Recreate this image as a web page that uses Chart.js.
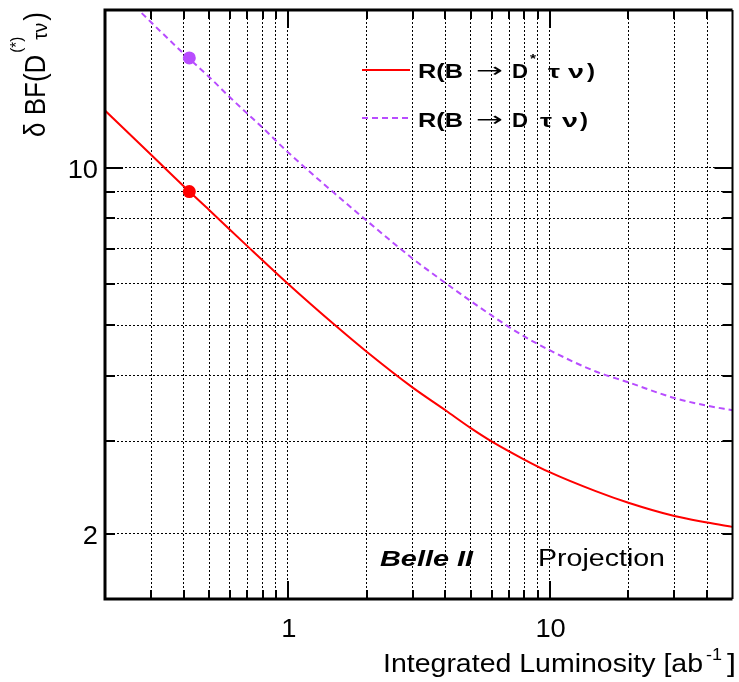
<!DOCTYPE html>
<html>
<head>
<meta charset="utf-8">
<script src="https://cdn.jsdelivr.net/npm/chart.js@4.4.1/dist/chart.umd.min.js"></script>
<style>
  html, body { margin: 0; padding: 0; background: #fff; }
  #wrap { width: 739px; height: 682px; }
</style>
</head>
<body>
<div id="wrap"><canvas id="projChart"></canvas></div>
<script>
// projected uncertainty curves
const lumiDstar = [0.2, 0.3, 0.42, 0.5, 0.7, 1, 1.5, 2, 3, 4, 5, 6, 8, 10, 15, 20, 30, 40, 50];
const bfDstar = [12.85, 10.58, 9.0, 8.3, 7.08, 6.0, 5.02, 4.45, 3.8, 3.44, 3.18, 3.0, 2.77, 2.62, 2.41, 2.29, 2.16, 2.10, 2.06];

const lumiD = [0.2, 0.25, 0.3, 0.4, 0.5, 0.6, 0.7, 0.8, 1, 1.5, 2, 3, 4, 5, 6, 7, 8, 10, 15, 20, 30, 40, 50];
const bfD = [22.9, 20.7, 18.95, 16.5, 14.9, 13.63, 12.68, 11.92, 10.7, 8.95, 7.92, 6.7, 6.02, 5.56, 5.22, 4.96, 4.76, 4.48, 4.08, 3.89, 3.63, 3.51, 3.44];

// current measurements
const measLumi = [0.42];
const measDstar = [9.0];
const measD = [16.2];

// axes
const xTicks = [0.3, 0.4, 0.5, 0.6, 0.7, 0.8, 0.9, 1, 2, 3, 4, 5, 6, 7, 8, 9, 10, 20, 30, 40];
const xLabels = [1, 10];
const yTicks = [2, 3, 4, 5, 6, 7, 8, 9, 10];
const yLabels = [2, 10];

const RED = "#ff0000";
const VIOLET = "#b84cff";
const FONT = "'Liberation Sans', Arial, Helvetica, sans-serif";

function toPoints(xs, ys) {
  return xs.map((x, i) => ({ x: x, y: ys[i] }));
}

// draw text stretched horizontally by sx
function stretchText(ctx, str, x, y, font, sx, align) {
  ctx.save();
  ctx.font = font;
  ctx.textAlign = align || "left";
  ctx.textBaseline = "alphabetic";
  ctx.translate(x, y);
  ctx.scale(sx, 1);
  ctx.fillText(str, 0, 0);
  ctx.restore();
}

function fitText(ctx, str, x, y, font, width) {
  ctx.save();
  ctx.font = font;
  const w = ctx.measureText(str).width;
  ctx.restore();
  stretchText(ctx, str, x, y, font, width / w, "left");
}

const decorations = {
  id: "decorations",
  afterDraw(chart) {
    const ctx = chart.ctx;
    const a = chart.chartArea;
    const xs = chart.scales.x;
    const ys = chart.scales.y;
    ctx.save();
    ctx.fillStyle = "#000";
    ctx.strokeStyle = "#000";

    // inner tick marks
    ctx.lineWidth = 2;
    ctx.beginPath();
    xTicks.forEach(v => {
      const px = Math.round(xs.getPixelForValue(v));
      const len = xLabels.includes(v) ? 18 : 9;
      ctx.moveTo(px, a.bottom); ctx.lineTo(px, a.bottom - len);
      ctx.moveTo(px, a.top); ctx.lineTo(px, a.top + len);
    });
    yTicks.forEach(v => {
      const py = Math.round(ys.getPixelForValue(v));
      const len = v === 10 ? 18 : 10;
      ctx.moveTo(a.left, py); ctx.lineTo(a.left + len, py);
      ctx.moveTo(a.right, py); ctx.lineTo(a.right - len, py);
    });
    ctx.stroke();

    // frame
    ctx.lineWidth = 3;
    ctx.beginPath();
    ctx.moveTo(a.right, a.top); ctx.lineTo(a.left, a.top);
    ctx.lineTo(a.left, a.bottom); ctx.lineTo(a.right, a.bottom);
    ctx.stroke();
    ctx.lineWidth = 2;
    ctx.beginPath();
    ctx.moveTo(a.right, a.top); ctx.lineTo(a.right, a.bottom);
    ctx.stroke();

    // tick labels
    const tickFont = "26px " + FONT;
    xLabels.forEach(v => {
      stretchText(ctx, String(v), xs.getPixelForValue(v) + 1, 637, tickFont, 1.05, "center");
    });
    yLabels.forEach(v => {
      stretchText(ctx, String(v), 98, ys.getPixelForValue(v) + 10, tickFont, 1.05, "right");
    });

    // x title
    const mainF = "25px " + FONT, supF = "16px " + FONT;
    fitText(ctx, "Integrated Luminosity [ab", 383, 672, mainF, 320);
    fitText(ctx, "-1", 706, 660, supF, 16);
    fitText(ctx, "]", 727, 672, mainF, 9);

    // y title (rotated)
    ctx.save();
    ctx.translate(45, 137);
    ctx.rotate(-Math.PI / 2);
    ctx.scale(1, 1.1);
    ctx.textAlign = "left";
    ctx.textBaseline = "alphabetic";
    ctx.font = "26px " + FONT;
    ctx.fillText("\u03b4 BF(D", 0, 0);
    const w1 = ctx.measureText("\u03b4 BF(D").width;
    ctx.font = "15px " + FONT;
    ctx.fillText("(*)", w1 + 2, -21);
    const w2 = ctx.measureText("(*)").width;
    ctx.font = "19px " + FONT;
    ctx.fillText("\u03c4\u03bd", w1 + w2 - 1, 2);
    const w3 = ctx.measureText("\u03c4\u03bd").width;
    ctx.font = "26px " + FONT;
    ctx.fillText(")", w1 + 1 + w2 + w3, 0);
    ctx.restore();

    // legend
    const rows = [
      { y: 70, base: 78, color: RED, dash: [], star: true, tau: 548, nu: 568, close: 587 },
      { y: 118, base: 127, color: VIOLET, dash: [6, 4], star: false, tau: 540, nu: 562, close: 580 },
    ];
    const legF = "bold 20px " + FONT;
    rows.forEach(r => {
      ctx.save();
      ctx.strokeStyle = r.color;
      ctx.lineWidth = 2;
      ctx.setLineDash(r.dash);
      ctx.beginPath();
      ctx.moveTo(362, r.y); ctx.lineTo(410, r.y);
      ctx.stroke();
      ctx.restore();
      fitText(ctx, "R(B", 418, r.base, legF, 45);
      fitText(ctx, "\u2192", 476, r.base - 1, "20px 'DejaVu Sans', sans-serif", 27);
      fitText(ctx, "D", 512, r.base, legF, 16);
      if (r.star) fitText(ctx, "*", 530, r.base - 15, "bold 12px " + FONT, 6);
      fitText(ctx, "\u03c4", r.tau, r.base, "bold 19px " + FONT, 12);
      fitText(ctx, "\u03bd", r.nu, r.base, "bold 19px " + FONT, 16);
      fitText(ctx, ")", r.close, r.base, legF, 8);
    });

    // experiment label
    fitText(ctx, "Belle II", 380, 566, "italic bold 22px " + FONT, 93);
    fitText(ctx, "Projection", 538, 566, "23px " + FONT, 127);

    ctx.restore();
  }
};

const ctx = document.getElementById("projChart").getContext("2d");
new Chart(ctx, {
  type: "scatter",
  data: {
    datasets: [
      {
        label: "R(B \u2192 D* \u03c4 \u03bd)",
        data: toPoints(lumiDstar, bfDstar),
        showLine: true,
        borderColor: RED,
        borderWidth: 2,
        pointRadius: 0,
        cubicInterpolationMode: "monotone",
      },
      {
        label: "R(B \u2192 D \u03c4 \u03bd)",
        data: toPoints(lumiD, bfD),
        showLine: true,
        borderColor: VIOLET,
        borderWidth: 2,
        borderDash: [6, 4],
        pointRadius: 0,
        cubicInterpolationMode: "monotone",
      },
      {
        label: "D* measurement",
        data: toPoints(measLumi, measDstar),
        pointRadius: 6.5,
        backgroundColor: RED,
        borderWidth: 0,
      },
      {
        label: "D measurement",
        data: toPoints(measLumi, measD),
        pointRadius: 6.5,
        backgroundColor: VIOLET,
        borderWidth: 0,
      },
    ],
  },
  options: {
    responsive: true,
    maintainAspectRatio: false,
    animation: false,
    devicePixelRatio: 1,
    layout: { padding: { left: 105, top: 10, right: 4, bottom: 83 } },
    plugins: {
      legend: { display: false },
      tooltip: { enabled: false },
    },
    scales: {
      x: {
        type: "logarithmic",
        min: 0.2,
        max: 50,
        afterBuildTicks: s => { s.ticks = xTicks.map(v => ({ value: v })); },
        ticks: { display: false },
        grid: { color: "#000", lineWidth: 1, drawTicks: false },
        border: { display: false, dash: [2, 2] },
      },
      y: {
        type: "logarithmic",
        min: 1.5,
        max: 20,
        afterBuildTicks: s => { s.ticks = yTicks.map(v => ({ value: v })); },
        ticks: { display: false },
        grid: { color: "#000", lineWidth: 1, drawTicks: false },
        border: { display: false, dash: [2, 2] },
      },
    },
  },
  plugins: [decorations],
});
</script>
</body>
</html>
